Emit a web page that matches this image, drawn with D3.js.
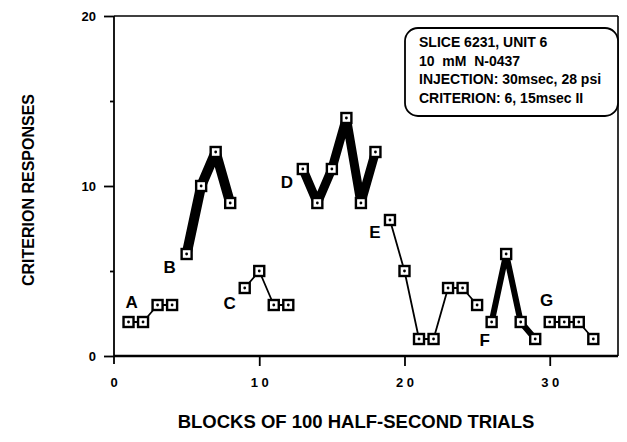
<!DOCTYPE html>
<html lang="en">
<head>
<meta charset="utf-8">
<title>Criterion responses</title>
<script src="https://d3js.org/d3.v7.min.js"></script>
<style>
    body, html { margin: 0; padding: 0; background: #fff; }
    svg { display: block; }
    text { font-family: "Liberation Sans", Arial, sans-serif; fill: #000; }
    .seglabel { font-weight: bold; font-size: 17px; }
    .title { font-weight: bold; }
    .note { font-size: 14px; font-weight: bold; }
</style>
</head>
<body>
<svg id="chart" width="627" height="442"></svg>
<script>
// segments of the record, block number and criterion responses per block
var segNames = ["A", "B", "C", "D", "E", "F", "G"];
var blocksA = [1, 2, 3, 4],            respA = [2, 2, 3, 3];
var blocksB = [5, 6, 7, 8],            respB = [6, 10, 12, 9];
var blocksC = [9, 10, 11, 12],         respC = [4, 5, 3, 3];
var blocksD = [13, 14, 15, 16, 17, 18], respD = [11, 9, 11, 14, 9, 12];
var blocksE = [19, 20, 21, 22, 23, 24, 25], respE = [8, 5, 1, 1, 4, 4, 3];
var blocksF = [26, 27, 28, 29],        respF = [2, 6, 2, 1];
var blocksG = [30, 31, 32, 33],        respG = [2, 2, 2, 1];
var xTicks = [0, 10, 20, 30];
var yTicks = [0, 10, 20];
var yMinor = [5, 15];
var noteLines = ["SLICE 6231, UNIT 6", "10  mM  N-0437", "INJECTION: 30msec, 28 psi", "CRITERION: 6, 15msec II"];

var allBlocks = [blocksA, blocksB, blocksC, blocksD, blocksE, blocksF, blocksG];
var allResp = [respA, respB, respC, respD, respE, respF, respG];

// drawing style per segment
var lineWidth = [1.8, 10, 1.8, 9, 1.8, 6, 1.8];
var labelOff = [[3, -20], [-17, 13], [-15, 15], [-16, 13], [-15, 12], [-7, 18], [-3, -22]];

var svg = d3.select("#chart");
var x = d3.scaleLinear().domain([0, 34.7]).range([114, 618]);
var y = d3.scaleLinear().domain([0, 20]).range([356, 16]);

// frame: top and right
svg.append("line").attr("x1", x(0)).attr("x2", x(34.7)).attr("y1", y(20)).attr("y2", y(20))
    .attr("stroke", "#000").attr("stroke-width", 1.6);
svg.append("line").attr("x1", x(34.7)).attr("x2", x(34.7)).attr("y1", y(20)).attr("y2", y(0))
    .attr("stroke", "#000").attr("stroke-width", 1.6);

// axes
var yAxis = svg.append("g").attr("transform", "translate(" + x(0) + ",0)")
    .call(d3.axisLeft(y).tickValues(yTicks).tickSize(10).tickPadding(8).tickFormat(d3.format("d")));
svg.append("g").attr("transform", "translate(" + x(0) + ",0)")
    .call(d3.axisLeft(y).tickValues(yMinor).tickSize(4).tickFormat(""))
    .select(".domain").remove();
var xAxis = svg.append("g").attr("transform", "translate(0," + y(0) + ")")
    .call(d3.axisBottom(x).tickValues(xTicks.slice(1)).tickSize(10).tickPadding(12)
        .tickFormat(function(d) { return String(d).split("").join(" "); }));
xAxis.append("g").attr("class", "tick").attr("transform", "translate(" + x(0) + ",0)")
    .append("text").attr("y", 22).attr("dy", "0.71em").attr("text-anchor", "middle").text("0");
xAxis.select(".domain").attr("d", "M" + x(0) + ",0H" + x(34.7));
yAxis.select(".domain").attr("d", "M0," + y(20) + "V" + (y(0) + 8));
svg.selectAll(".domain, .tick line").attr("stroke", "#000").attr("stroke-width", 1.8);
xAxis.select(".domain").attr("stroke-width", 2.4);
svg.selectAll("g").attr("font-size", null).attr("font-family", null);
svg.selectAll(".tick text").attr("fill", "#000").style("font-weight", "bold").style("font-size", "13px");

// data segments
var line = d3.line().x(function(d) { return x(d[0]); }).y(function(d) { return y(d[1]); });
segNames.forEach(function(name, i) {
    var pts = d3.zip(allBlocks[i], allResp[i]);
    svg.append("path").datum(pts).attr("d", line)
        .attr("fill", "none").attr("stroke", "#000")
        .attr("stroke-width", lineWidth[i]).attr("stroke-linejoin", "round");
    var g = svg.append("g");
    g.selectAll("rect").data(pts).enter().append("rect")
        .attr("x", function(d) { return x(d[0]) - 5; })
        .attr("y", function(d) { return y(d[1]) - 5; })
        .attr("width", 10).attr("height", 10)
        .attr("fill", "#fff").attr("stroke", "#000").attr("stroke-width", 2.4);
    g.selectAll("circle").data(pts).enter().append("circle")
        .attr("cx", function(d) { return x(d[0]); })
        .attr("cy", function(d) { return y(d[1]); })
        .attr("r", 1.4).attr("fill", "#000");
    svg.append("text").attr("class", "seglabel")
        .attr("x", x(pts[0][0]) + labelOff[i][0])
        .attr("y", y(pts[0][1]) + labelOff[i][1])
        .attr("text-anchor", "middle").attr("dominant-baseline", "central")
        .text(name);
});

// note box
svg.append("rect").attr("x", 405).attr("y", 28).attr("width", 213).attr("height", 88)
    .attr("rx", 13).attr("fill", "#fff").attr("stroke", "#000").attr("stroke-width", 1.8);
svg.selectAll(".note").data(noteLines).enter().append("text").attr("class", "note")
    .attr("x", 419).attr("y", function(d, i) { return 47 + i * 18.7; })
    .style("white-space", "pre").text(function(d) { return d; });

// axis titles
svg.append("text").attr("class", "title").style("font-size", "16px")
    .attr("transform", "translate(34,190) rotate(-90)")
    .attr("text-anchor", "middle").text("CRITERION RESPONSES");
svg.append("text").attr("class", "title").style("font-size", "18.5px")
    .attr("x", 356).attr("y", 428).attr("text-anchor", "middle")
    .text("BLOCKS OF 100 HALF-SECOND TRIALS");
</script>
</body>
</html>
